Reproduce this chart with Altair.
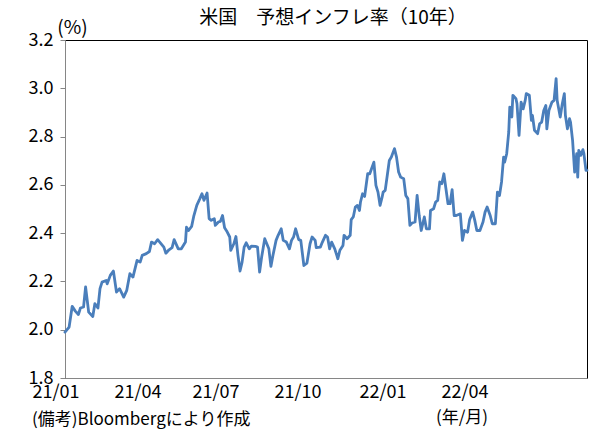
import altair as alt
import pandas as pd

# ---- data ----
# days since 2021-01-01
day_offsets = [
    0, 4, 7, 10, 13, 15, 18, 20, 23, 27, 29, 32, 34, 36, 40, 41, 44, 47, 50, 53,
    57, 60, 63, 66, 70, 73, 75, 79, 82, 84, 87, 90, 92, 96, 98, 101, 104, 106, 110, 113,
    117, 118, 120, 123, 125, 128, 131, 133, 135, 138, 140, 142, 145, 146, 149, 151, 153, 155, 157, 160,
    161, 164, 166, 168, 170, 172, 174, 176, 179, 181, 185, 187, 189, 191, 194, 198, 200, 202, 205, 207,
    210, 212, 215, 218, 220, 222, 224, 227, 229, 232, 235, 238, 240, 243, 244, 248, 250, 253, 255, 257,
    259, 262, 264, 265, 267, 270, 271, 274, 277, 278, 280, 282, 284, 286, 287, 289, 291, 294, 296, 300,
    302, 304, 306, 308, 309, 311, 313, 315, 317, 320, 322, 324, 326, 329, 331, 333, 335, 337, 340, 342,
    344, 346, 349, 351, 354, 355, 358, 360, 362, 364, 366, 368, 370, 372, 374, 376, 378, 380, 384, 386,
    388, 391, 393, 396, 398, 400, 403, 406, 408, 410, 413, 415, 418, 420, 422, 424, 426, 427, 429, 431,
    432, 434, 435, 438, 439, 441, 443, 445, 447, 448, 451, 453, 454, 456, 459, 461, 463, 465, 467, 468,
    470, 473, 475, 477, 478, 481, 483, 485, 486, 488, 490, 491, 493, 495, 497, 498, 499, 501, 503, 504,
    506, 507,
]
bei = [
    1.990, 2.011, 2.097, 2.077, 2.063, 2.090, 2.094, 2.177, 2.073, 2.055,
    2.108, 2.090, 2.170, 2.197, 2.204, 2.190, 2.225, 2.243, 2.156, 2.170,
    2.135, 2.163, 2.232, 2.218, 2.287, 2.280, 2.308, 2.315, 2.324, 2.363,
    2.356, 2.373, 2.363, 2.342, 2.317, 2.331, 2.340, 2.373, 2.335, 2.335,
    2.363, 2.425, 2.411, 2.428, 2.469, 2.515, 2.543, 2.563, 2.536, 2.566,
    2.460, 2.453, 2.460, 2.432, 2.446, 2.449, 2.473, 2.422, 2.409, 2.384,
    2.329, 2.356, 2.386, 2.308, 2.243, 2.280, 2.342, 2.360, 2.335, 2.346,
    2.345, 2.342, 2.239, 2.301, 2.377, 2.335, 2.262, 2.308, 2.370, 2.391,
    2.418, 2.370, 2.363, 2.335, 2.370, 2.384, 2.418, 2.373, 2.370, 2.266,
    2.276, 2.356, 2.384, 2.370, 2.340, 2.342, 2.363, 2.391, 2.384, 2.335,
    2.363, 2.335, 2.308, 2.294, 2.329, 2.349, 2.391, 2.377, 2.391, 2.456,
    2.467, 2.508, 2.515, 2.494, 2.529, 2.563, 2.552, 2.646, 2.646, 2.694,
    2.598, 2.570, 2.515, 2.549, 2.570, 2.577, 2.639, 2.701, 2.715, 2.750,
    2.715, 2.653, 2.632, 2.625, 2.556, 2.543, 2.432, 2.442, 2.446, 2.556,
    2.473, 2.411, 2.467, 2.418, 2.418, 2.494, 2.501, 2.529, 2.536, 2.612,
    2.605, 2.646, 2.584, 2.522, 2.522, 2.580, 2.473, 2.473, 2.480, 2.370,
    2.411, 2.404, 2.456, 2.487, 2.453, 2.411, 2.411, 2.446, 2.487, 2.508,
    2.473, 2.439, 2.439, 2.570, 2.556, 2.612, 2.715, 2.694, 2.729, 2.819,
    2.922, 2.881, 2.971, 2.957, 2.936, 2.805, 2.943, 2.915, 2.950, 2.978,
    2.971, 2.867, 2.888, 2.826, 2.812, 2.853, 2.860, 2.908, 2.929, 2.832,
    2.908, 2.943, 2.950, 3.040, 2.950, 2.881, 2.936, 2.978, 2.888, 2.832,
    2.874, 2.860, 2.784, 2.653, 2.729, 2.632, 2.743, 2.722, 2.746, 2.729,
    2.660, 2.660,
]

x_label_text = ["21/01", "21/04", "21/07", "21/10", "22/01", "22/04"]
x_label_days = [-8.7, 70.9, 146.7, 226.3, 308.9, 388.5]
y_ticks = [1.8, 2.0, 2.2, 2.4, 2.6, 2.8, 3.0, 3.2]

title_text = "米国　予想インフレ率（10年）"
source_text = "(備考)Bloombergにより作成"
unit_text = "(年/月)"

FONT = "Noto Sans CJK JP"
LINE_COLOR = "#4A7EBB"
AXIS_GREY = "#868686"

df = pd.DataFrame({"day": day_offsets, "value": bei})
lab_df = pd.DataFrame({"day": x_label_days, "label": x_label_text})

x_scale = alt.Scale(domain=[0, 507], nice=False, zero=False)
y_scale = alt.Scale(domain=[1.8, 3.2], nice=False, zero=False)
x_axis = alt.Axis(title=None, labels=False, ticks=False, grid=False,
                  domainColor=AXIS_GREY, domainWidth=1)

line = alt.Chart(df).mark_line(
    color=LINE_COLOR, strokeWidth=2.8, strokeJoin="round", strokeCap="round"
).encode(
    x=alt.X("day:Q", scale=x_scale, axis=x_axis),
    y=alt.Y(
        "value:Q",
        scale=y_scale,
        axis=alt.Axis(
            values=y_ticks, format=".1f", grid=False,
            title="(%)", titleAngle=0, titleX=7, titleY=-13,
            titleAlign="center", titleBaseline="middle",
            titleFontSize=19, titleFontWeight="normal", titleColor="black",
            labelFontSize=18, labelColor="black", labelPadding=7,
            tickSize=5, tickColor=AXIS_GREY, domainColor=AXIS_GREY, domainWidth=1,
        ),
    ),
)

xlabels = alt.Chart(lab_df).mark_text(
    fontSize=18, align="center", baseline="middle", color="black"
).encode(
    x=alt.X("day:Q", scale=x_scale, axis=x_axis),
    y=alt.value(353),
    text="label:N",
)

one = pd.DataFrame({"k": [0]})
title = alt.Chart(one).mark_text(
    text=title_text, fontSize=19, align="center", baseline="middle", color="black"
).encode(x=alt.value(268), y=alt.value(-22))

source = alt.Chart(one).mark_text(
    text=source_text, fontSize=17, align="left", baseline="middle", color="black"
).encode(x=alt.value(-33), y=alt.value(380))

unit = alt.Chart(one).mark_text(
    text=unit_text, fontSize=17, align="center", baseline="middle", color="black"
).encode(x=alt.value(397), y=alt.value(378))

chart = alt.layer(line, xlabels, title, source, unit).properties(
    width=522,
    height=338,
    autosize="none",
    padding={"left": 65, "top": 40, "right": 15, "bottom": 68},
    background="white",
).configure(font=FONT).configure_view(stroke="black", strokeWidth=1)

chart.save("out.html", embed_options={"renderer": "svg", "actions": False})
